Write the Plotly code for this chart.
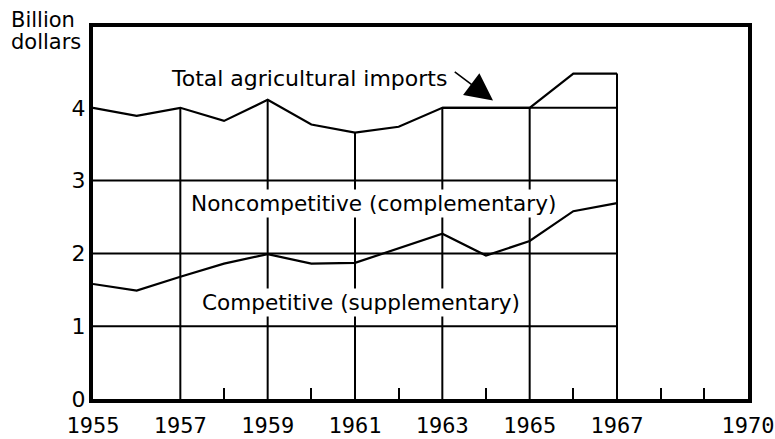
import plotly.graph_objects as go

# ---- data (billion dollars) ----
years = [1955, 1956, 1957, 1958, 1959, 1960, 1961, 1962, 1963, 1964, 1965, 1966, 1967]
total_imports = [4.00, 3.89, 4.00, 3.82, 4.11, 3.77, 3.66, 3.74, 4.00, 4.00, 4.00, 4.47, 4.47]
competitive_imports = [1.58, 1.49, 1.68, 1.86, 1.99, 1.86, 1.87, 2.07, 2.27, 1.97, 2.17, 2.58, 2.69]

x_tick_vals = [1955, 1957, 1959, 1961, 1963, 1965, 1967, 1970]
x_tick_text = ["1955", "1957", "1959", "1961", "1963", "1965", "1967", "1970"]
x_minor_ticks = [1958, 1960, 1962, 1964, 1966, 1968, 1969]
y_tick_vals = [0, 1, 2, 3, 4]
grid_years = [1957, 1959, 1961, 1963, 1965, 1967]
grid_levels = [1, 2, 3]

SANS = "DejaVu Sans"
MONO = "DejaVu Sans Mono"
INK = "black"

L, R, T, B = 93, 27, 27, 40
W = 775 - L - R
H = 439 - T - B

fig = go.Figure()
fig.add_trace(go.Scatter(x=years, y=total_imports, mode="lines",
                         line=dict(color=INK, width=2.2), name="Total agricultural imports",
                         showlegend=False))
fig.add_trace(go.Scatter(x=years, y=competitive_imports, mode="lines",
                         line=dict(color=INK, width=2.2), name="Competitive (supplementary)",
                         showlegend=False))

shapes = []
for gy in grid_years:
    top = total_imports[years.index(gy)]
    shapes.append(dict(type="line", xref="x", yref="y", x0=gy, x1=gy, y0=0, y1=top,
                       line=dict(color=INK, width=2), layer="below"))
for lv in grid_levels:
    shapes.append(dict(type="line", xref="x", yref="y", x0=years[0], x1=years[-1], y0=lv, y1=lv,
                       line=dict(color=INK, width=2), layer="below"))
shapes.append(dict(type="line", xref="x", yref="y", x0=1963, x1=years[-1], y0=4, y1=4,
                   line=dict(color=INK, width=2), layer="below"))

annotations = [
    dict(x=1959.95, y=4.40, xref="x", yref="y", text="Total agricultural imports",
         showarrow=False, font=dict(family=SANS, size=22, color=INK)),
    dict(x=1964.16, y=4.10, ax=1963.25, ay=4.51, xref="x", yref="y", axref="x", ayref="y",
         text="", showarrow=True, arrowhead=2, arrowsize=3.4, arrowwidth=1.6, arrowcolor=INK),
    dict(x=1961.42, y=2.69, xref="x", yref="y", text="Noncompetitive (complementary)",
         showarrow=False, bgcolor="white", borderpad=1, font=dict(family=SANS, size=21.6, color=INK)),
    dict(x=1961.14, y=1.33, xref="x", yref="y", text="Competitive (supplementary)",
         showarrow=False, bgcolor="white", borderpad=1, font=dict(family=SANS, size=21.6, color=INK)),
    dict(x=(9 - L) / W, y=1 + (T - 20) / H, xref="paper", yref="paper", text="Billion",
         xanchor="left", yanchor="middle", showarrow=False, font=dict(family=SANS, size=21, color=INK)),
    dict(x=(9 - L) / W, y=1 + (T - 42) / H, xref="paper", yref="paper", text="dollars",
         xanchor="left", yanchor="middle", showarrow=False, font=dict(family=SANS, size=21, color=INK)),
]

fig.update_layout(
    width=775, height=439,
    margin=dict(l=L, r=R, t=T, b=B, autoexpand=False),
    paper_bgcolor="white", plot_bgcolor="white",
    shapes=shapes, annotations=annotations,
    showlegend=False,
)
fig.update_xaxes(range=[1955, 1970], tickmode="array", tickvals=x_tick_vals, ticktext=x_tick_text,
                 ticks="", showgrid=False, zeroline=False, showline=True, linecolor=INK, linewidth=4,
                 mirror=True, automargin=False, ticklabelstandoff=4,
                 tickfont=dict(family=MONO, size=22, color=INK),
                 minor=dict(tickmode="array", tickvals=x_minor_ticks, ticks="inside", ticklen=11,
                            tickwidth=2, tickcolor=INK, showgrid=False))
fig.update_yaxes(range=[0, 5.11], tickmode="array", tickvals=y_tick_vals, ticks="",
                 showgrid=False, zeroline=False, showline=True, linecolor=INK, linewidth=4,
                 mirror=True, automargin=False, ticklabelstandoff=-1,
                 tickfont=dict(family=SANS, size=22, color=INK))

fig.write_html("out.html", config={"displayModeBar": False},
               post_script="document.body.style.margin='0';")
